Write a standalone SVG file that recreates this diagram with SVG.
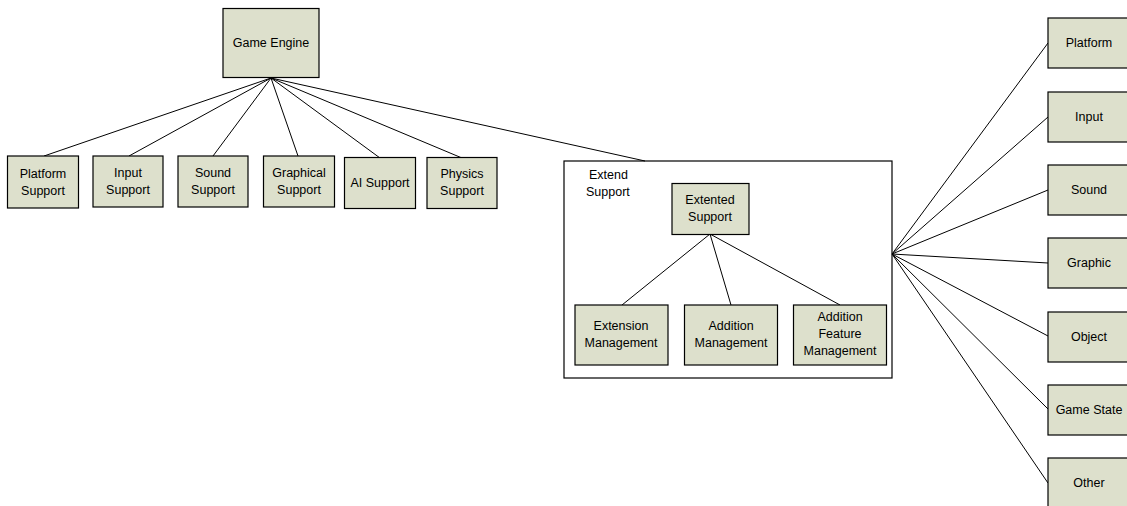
<svg xmlns="http://www.w3.org/2000/svg" width="1127" height="506" viewBox="0 0 1127 506">
<style>
.n{fill:#dde0cc;stroke:#000;stroke-width:1.2}
.c{fill:none;stroke:#000;stroke-width:1}
text{font-family:"Liberation Sans",Arial,sans-serif;font-size:12.5px;fill:#000;text-anchor:middle}
.l{text-anchor:start}
</style>
<rect width="1127" height="506" fill="#fff"/>
<g id="connectors" class="c">
<line x1="271" y1="78" x2="44" y2="156"/>
<line x1="271" y1="78" x2="129" y2="156"/>
<line x1="271" y1="78" x2="213" y2="156"/>
<line x1="271" y1="78" x2="298" y2="156"/>
<line x1="271" y1="78" x2="380" y2="158"/>
<line x1="271" y1="78" x2="462" y2="158"/>
<line x1="271" y1="78" x2="645" y2="161"/>
<line x1="710" y1="234" x2="622" y2="305"/>
<line x1="710" y1="234" x2="731" y2="305"/>
<line x1="710" y1="234" x2="840" y2="305"/>
<line x1="892" y1="254" x2="1048" y2="43"/>
<line x1="892" y1="254" x2="1048" y2="117"/>
<line x1="892" y1="254" x2="1048" y2="190"/>
<line x1="892" y1="254" x2="1048" y2="263"/>
<line x1="892" y1="254" x2="1048" y2="336"/>
<line x1="892" y1="254" x2="1048" y2="409"/>
<line x1="892" y1="254" x2="1048" y2="483"/>
</g>
<g id="game-engine"><rect class="n" x="223" y="8.5" width="96" height="69"/><text x="271" y="47">Game Engine</text></g>
<g id="platform-support"><rect class="n" x="7.5" y="156" width="71" height="52"/><text x="43" y="178">Platform</text><text x="43" y="195">Support</text></g>
<g id="input-support"><rect class="n" x="93" y="156" width="70" height="51"/><text x="128" y="177">Input</text><text x="128" y="194">Support</text></g>
<g id="sound-support"><rect class="n" x="178" y="156" width="70" height="51"/><text x="213" y="177">Sound</text><text x="213" y="194">Support</text></g>
<g id="graphical-support"><rect class="n" x="263.5" y="156" width="71" height="51"/><text x="299" y="177">Graphical</text><text x="299" y="194">Support</text></g>
<g id="ai-support"><rect class="n" x="344.5" y="157.5" width="71" height="51"/><text x="380" y="187">AI Support</text></g>
<g id="physics-support"><rect class="n" x="427" y="157.5" width="70" height="51"/><text x="462" y="178">Physics</text><text x="462" y="195">Support</text></g>
<g id="extend-support-group"><rect x="564" y="161" width="328" height="217" fill="none" stroke="#000" stroke-width="1.2"/><text class="l" x="589" y="179">Extend</text><text class="l" x="586" y="196">Support</text></g>
<g id="extented-support"><rect class="n" x="672" y="183.5" width="77" height="51"/><text x="710" y="204">Extented</text><text x="710" y="221">Support</text></g>
<g id="extension-management"><rect class="n" x="575" y="305" width="93" height="60"/><text x="621" y="330">Extension</text><text x="621" y="347">Management</text></g>
<g id="addition-management"><rect class="n" x="684.5" y="305" width="93" height="60"/><text x="731" y="330">Addition</text><text x="731" y="347">Management</text></g>
<g id="addition-feature-management"><rect class="n" x="793.5" y="305" width="93" height="60"/><text x="840" y="321">Addition</text><text x="840" y="338">Feature</text><text x="840" y="355">Management</text></g>
<g id="platform"><rect class="n" x="1048" y="18" width="82" height="50"/><text x="1089" y="47">Platform</text></g>
<g id="input"><rect class="n" x="1048" y="92" width="82" height="50"/><text x="1089" y="121">Input</text></g>
<g id="sound"><rect class="n" x="1048" y="165" width="82" height="50"/><text x="1089" y="194">Sound</text></g>
<g id="graphic"><rect class="n" x="1048" y="238" width="82" height="50"/><text x="1089" y="267">Graphic</text></g>
<g id="object"><rect class="n" x="1048" y="312" width="82" height="50"/><text x="1089" y="341">Object</text></g>
<g id="game-state"><rect class="n" x="1048" y="385" width="82" height="50"/><text x="1089" y="414">Game State</text></g>
<g id="other"><rect class="n" x="1048" y="458" width="82" height="50"/><text x="1089" y="487">Other</text></g>
</svg>
